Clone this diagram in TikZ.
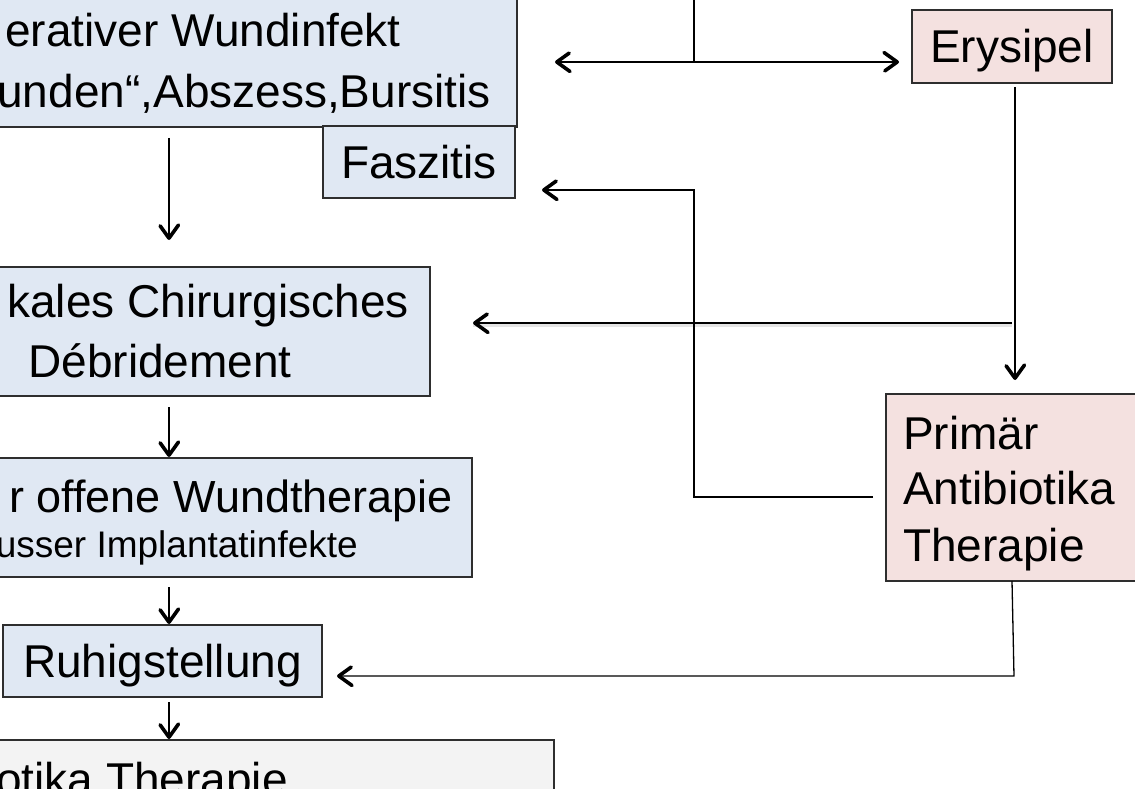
\documentclass[tikz,border=0pt]{standalone}
\usepackage{fontspec}
\setmainfont{Liberation Sans}
\usetikzlibrary{decorations.markings}
\definecolor{boxblue}{HTML}{E0E8F3}
\definecolor{boxrose}{HTML}{F4E1E0}
\definecolor{boxgrey}{HTML}{F3F3F3}
\definecolor{boxline}{HTML}{2E2E2E}
\begin{document}
\begin{tikzpicture}[x=1pt,y=-1pt,
	flowbox/.style={draw=boxline,line width=1.5pt,inner sep=0pt},
	txt/.style={inner sep=0pt,font=\fontsize{46}{56}\selectfont},
	smalltxt/.style={inner sep=0pt,font=\fontsize{37}{44}\selectfont},
	plain/.style={draw=black,line width=1.3pt},
	conn/.style={plain,shorten >=1pt,postaction={decorate},
		decoration={markings,mark=at position 1 with {
			\draw[black,line width=3.6pt,line cap=round,line join=round]
				(-15pt,9.5pt)--(-1.8pt,0pt)--(-15pt,-9.5pt);}}}]
	\useasboundingbox (0,0) rectangle (1135,789);
	\clip (0,0) rectangle (1135,789);
	% boxes, left column
	\node[flowbox,fill=boxblue,minimum width=537pt,minimum height=147pt](wund) at (248.5,53.5){};
	\node[txt,anchor=base east](wundA) at (401,47){erativer Wundinfekt};
	\node[txt,anchor=base east](wundB) at (491,108){unden“,Abszess,Bursitis};
	\node[flowbox,txt,fill=boxblue,minimum width=192pt,minimum height=72pt,text height=33pt,text depth=0pt](fasz) at (419,162){Faszitis};
	\node[flowbox,fill=boxblue,minimum width=540pt,minimum height=129pt](debr) at (160,331.5){};
	\node[txt,anchor=base east](debrA) at (409,317){kales Chirurgisches};
	\node[txt,anchor=base](debrB) at (160,377){Débridement};
	\node[flowbox,fill=boxblue,minimum width=532pt,minimum height=119pt](offen) at (206,517.5){};
	\node[txt,font=\fontsize{45}{56}\selectfont,anchor=base east](offenA) at (453,512){r offene Wundtherapie};
	\node[smalltxt,anchor=base east](offenB) at (358,557){usser Implantatinfekte};
	\node[flowbox,txt,fill=boxblue,minimum width=319pt,minimum height=72pt,text height=33pt,text depth=0pt](ruhig) at (162.5,661){Ruhigstellung};
	\node[flowbox,fill=boxgrey,minimum width=574pt,minimum height=80pt](abx) at (267,780){};
	\node[txt,anchor=base east](abxA) at (288,795){otika Therapie};
	% boxes, right column
	\node[flowbox,txt,fill=boxrose,minimum width=200pt,minimum height=73pt,text height=33pt,text depth=0pt](erys) at (1012,46.5){Erysipel};
	\node[flowbox,fill=boxrose,minimum width=264pt,minimum height=187pt](prim) at (1018,487.5){};
	\node[txt,anchor=base west](primA) at (903,449){Primär};
	\node[txt,anchor=base west](primB) at (903,504){Antibiotika};
	\node[txt,anchor=base west](primC) at (903,561){Therapie};
	% connector points
	\coordinate (top) at (694,-10);
	\coordinate (split) at (694,62);
	\coordinate (tipW) at (555,62);
	\coordinate (tipE) at (899,62);
	\coordinate (erysD) at (1015,87);
	\coordinate (primU) at (1015,380);
	\coordinate (brR) at (1012,323);
	\coordinate (brL) at (473,323);
	\coordinate (faszR) at (873,497);
	\coordinate (faszK1) at (694,497);
	\coordinate (faszK2) at (694,190);
	\coordinate (faszL) at (542,190);
	\coordinate (primD) at (1012,581);
	\coordinate (ruhK) at (1014,676);
	\coordinate (ruhR) at (337,676);
	% connectors, right side
	\draw[plain](top)--(split);
	\draw[conn](split)--(tipW);
	\draw[conn](split)--(tipE);
	\draw[conn](erysD)--(primU);
	\draw[black!10,line width=3pt,transform canvas={yshift=-2.5pt}](brR)--(brL);
	\draw[conn](brR)--(brL);
	\draw[conn](faszR)--(faszK1)--(faszK2)--(faszL);
	\draw[conn](primD)--(ruhK)--(ruhR);
	% connectors, left column
	\draw[conn](169,138)--(169,240);
	\draw[conn](169,407)--(169,457);
	\draw[conn](169,587)--(169,624);
	\draw[conn](169,702)--(169,739);
\end{tikzpicture}
\end{document}
